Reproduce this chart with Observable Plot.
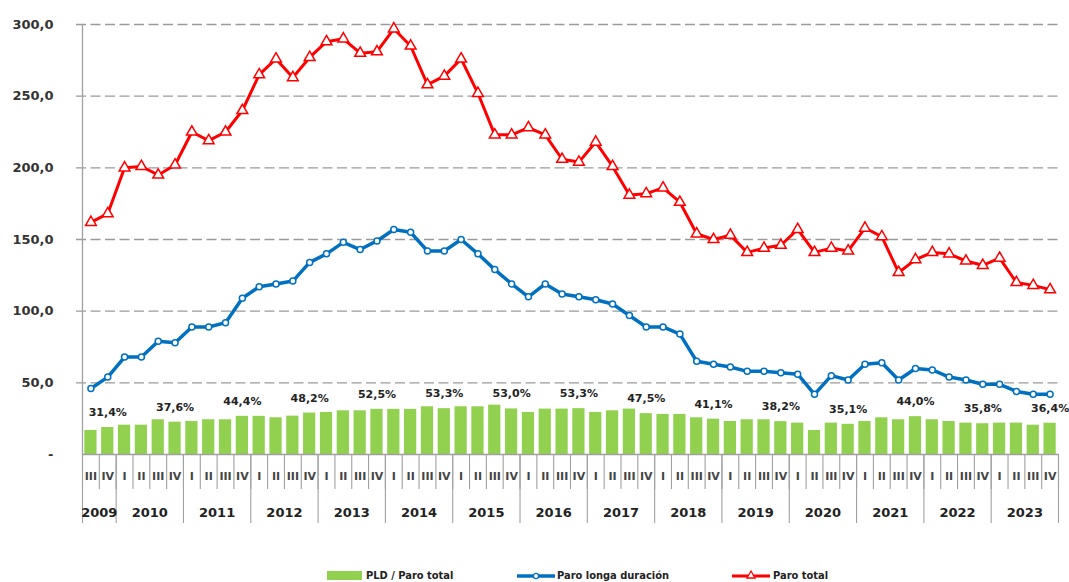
<!DOCTYPE html>
<html>
<head>
<meta charset="utf-8">
<script src="https://cdn.jsdelivr.net/npm/d3@7"></script>
<script src="https://cdn.jsdelivr.net/npm/@observablehq/plot@0.6"></script>
<style>
  html, body { margin: 0; padding: 0; background: #fff; }
  body { width: 1069px; height: 582px; overflow: hidden; position: relative; font-family: "DejaVu Sans", sans-serif; }
  #chart { position: absolute; left: 0; top: 0; }
  #legend { position: absolute; left: 0; top: 560px; width: 1069px; height: 22px; }
  .sw { position: absolute; }
  .lt { position: absolute; top: 9px; font-size: 11px; line-height: 13px; font-weight: bold; color: #222; white-space: nowrap; font-family: "DejaVu Sans Condensed", "DejaVu Sans", sans-serif; }
</style>
</head>
<body>
<div id="chart"></div>
<div id="legend"></div>
<script>
// ---- Data (thousands of people; PLD share in %) ----
const yearLabels = ["2009","2010","2011","2012","2013","2014","2015","2016","2017","2018","2019","2020","2021","2022","2023"];
const quarterNames = ["I","II","III","IV"];
const firstQuarterIndex = 2; // series starts in 2009 III

const paroTotal = [162,168,200,201,195,202,225,219,225,240,265,276,263,277,288,290,280,281,297,285,258,264,276,252,223,223,228,223,206,204,218,201,181,182,186,176,154,150,153,141,144,146,157,141,144,142,158,152,127,136,141,140,135,132,137,120,118,115];
const paroLongaDuracion = [46,54,68,68,79,78,89,89,92,109,117,119,121,134,140,148,143,149,157,155,142,142,150,140,129,119,110,119,112,110,108,105,97,89,89,84,65,63,61,58,58,57,56,42,55,52,63,64,52,60,59,54,52,49,49,44,42,42];
const pldShare = [28.0,31.4,34.1,34.1,40.4,37.6,38.4,40.4,40.4,44.4,44.4,42.7,44.6,48.2,48.9,50.8,50.8,52.5,52.5,52.5,55.5,53.3,55.5,55.5,57.4,53.0,48.9,52.8,52.8,53.3,48.9,50.8,52.8,47.5,46.6,46.6,42.7,41.1,38.4,40.4,40.4,38.2,36.5,27.9,36.5,35.1,38.4,42.7,40.4,44.0,40.4,38.4,36.5,35.8,36.5,36.5,34.1,36.4];
const yTicks = [0,50,100,150,200,250,300];

// ---- Build table ----
const data = paroTotal.map((t, i) => {
  const k = i + firstQuarterIndex;
  return { i, year: yearLabels[Math.floor(k / 4)], q: quarterNames[k % 4], total: t, longa: paroLongaDuracion[i], pld: pldShare[i] };
});
const yearGroups = d3.groups(data, d => d.year).map(([year, rows]) => ({ year, start: rows[0].i, end: rows[rows.length - 1].i + 1 }));
const quarterBounds = d3.range(0, data.length + 1);
const yearBounds = yearGroups.map(g => g.start).concat([data.length]);
const secondary = 300 / 500; // secondary axis 0–500 % shares the 0–300 primary range
const fmt = v => v.toFixed(1).replace(".", ",");
const cx = d => d.i + 0.5;

const gray = "#a0a0a0";
const chart = Plot.plot({
  width: 1069,
  height: 560,
  marginLeft: 82,
  marginRight: 11,
  marginTop: 24,
  marginBottom: 106,
  x: { type: "linear", domain: [0, data.length], axis: null },
  y: { domain: [0, 300], axis: null },
  style: { fontFamily: "DejaVu Sans, sans-serif", background: "white", overflow: "visible" },
  marks: [
    Plot.gridY(yTicks.filter(v => v > 0), { stroke: "#9a9a9a", strokeOpacity: 1, strokeWidth: 1.3, strokeDasharray: "10,4.5", insetLeft: -6, insetRight: -2 }),
    Plot.axisY({ ticks: yTicks, tickSize: 0, tickPadding: 29, tickFormat: v => v === 0 ? "-" : fmt(v), fontSize: 13, fontWeight: "bold", fill: "#333", label: null }),
    Plot.rectY(data, { x1: "i", x2: d => d.i + 1, y: d => d.pld * secondary, fill: "#92d050", insetLeft: 2.3, insetRight: 2.3 }),
    Plot.ruleY([0], { stroke: gray, strokeWidth: 1.3 }),
    Plot.ruleX([0], { stroke: gray, strokeWidth: 1.3 }),
    Plot.axisX({ ticks: quarterBounds, tickSize: 35, tickFormat: () => "", stroke: gray, strokeWidth: 1.1, label: null }),
    Plot.axisX({ ticks: yearBounds, tickSize: 69, tickFormat: () => "", stroke: gray, strokeWidth: 1.1, label: null }),
    Plot.text(data, { x: cx, text: "q", frameAnchor: "bottom", dy: 25, fontSize: 11, fontWeight: "bold", fill: "#444" }),
    Plot.text(yearGroups, { x: d => (d.start + d.end) / 2, text: "year", frameAnchor: "bottom", dy: 62, fontSize: 13, fontWeight: "bold", fill: "#222" }),
    Plot.text(data.filter(d => d.q === "IV"), { x: cx, y: d => d.pld * secondary, text: d => fmt(d.pld) + "%", dy: -15, fontSize: 11, fontWeight: "bold", fill: "#222" }),
    Plot.line(data, { x: cx, y: "longa", stroke: "#0070c0", strokeWidth: 3.5 }),
    Plot.dot(data, { x: cx, y: "longa", r: 3, fill: "white", stroke: "#0070c0", strokeWidth: 1.5 }),
    Plot.line(data, { x: cx, y: "total", stroke: "#ff0000", strokeWidth: 3 }),
    Plot.dot(data, { x: cx, y: "total", symbol: "triangle", r: 4, fill: "white", stroke: "#ff0000", strokeWidth: 1.5 })
  ]
});
document.getElementById("chart").appendChild(chart);

// ---- Legend ----
const legend = document.getElementById("legend");
legend.innerHTML = `
  <div class="sw" style="left:327px;top:11px;width:35px;height:9px;background:#92d050"></div>
  <div class="lt" style="left:366px">PLD / Paro total</div>
  <svg class="sw" style="left:516px;top:10px" width="40" height="12"><line x1="1" y1="6" x2="39" y2="6" stroke="#0070c0" stroke-width="3.5"/><circle cx="20" cy="6" r="2.6" fill="white" stroke="#0070c0" stroke-width="1.3"/></svg>
  <div class="lt" style="left:557px">Paro longa duración</div>
  <svg class="sw" style="left:731px;top:8px" width="40" height="14"><line x1="1" y1="8" x2="39" y2="8" stroke="#ff0000" stroke-width="3"/><path d="M20,3 L24,10 L16,10 Z" fill="white" stroke="#ff0000" stroke-width="1.3"/></svg>
  <div class="lt" style="left:773px">Paro total</div>`;
</script>
</body>
</html>
